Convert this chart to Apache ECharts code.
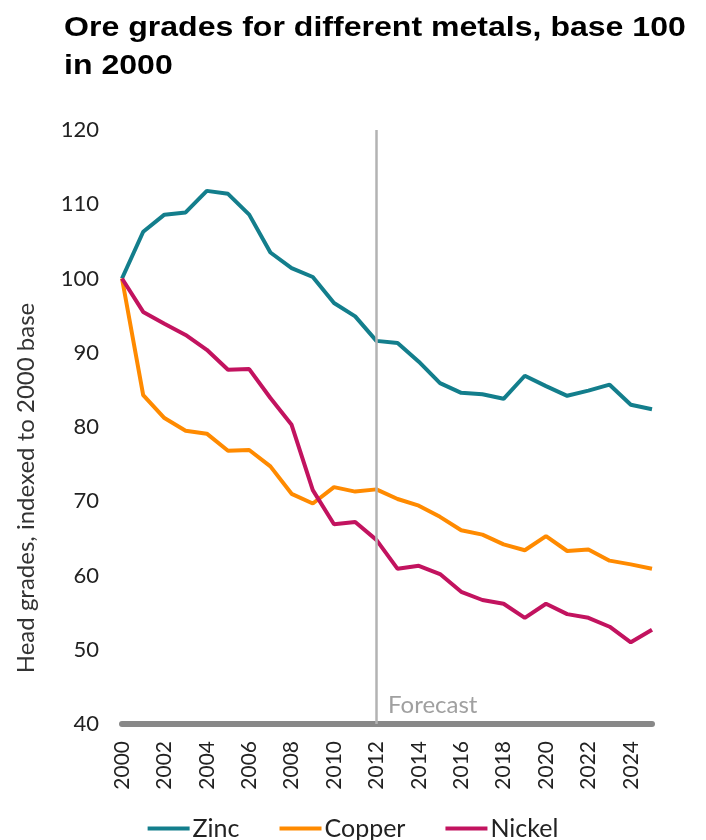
<!DOCTYPE html>
<html>
<head>
<meta charset="utf-8">
<script src="https://cdn.jsdelivr.net/npm/echarts@6/dist/echarts.min.js"></script>
<style>
html,body{margin:0;padding:0;background:#fff;}
#chart{width:706px;height:840px;}
</style>
</head>
<body>
<div id="chart"></div>
<script>
var years = ['2000','2001','2002','2003','2004','2005','2006','2007','2008','2009','2010','2011','2012','2013','2014','2015','2016','2017','2018','2019','2020','2021','2022','2023','2024','2025'];
var zinc = [100,106.3,108.6,108.9,111.8,111.4,108.6,103.5,101.4,100.2,96.7,94.9,91.6,91.3,88.8,85.9,84.6,84.4,83.8,86.9,85.5,84.2,84.9,85.7,83.0,82.4];
var copper = [100,84.3,81.2,79.5,79.1,76.8,76.9,74.7,71.0,69.7,71.9,71.3,71.6,70.3,69.4,67.9,66.1,65.5,64.2,63.4,65.3,63.3,63.5,62.0,61.5,60.9];
var nickel = [100,95.5,93.9,92.4,90.4,87.7,87.8,83.9,80.3,71.5,66.9,67.2,64.8,60.9,61.3,60.2,57.8,56.7,56.2,54.3,56.2,54.8,54.3,53.1,51.0,52.7];
var forecastYear = '2012';
var titleText = 'Ore grades for different metals, base 100\nin 2000';
var yAxisName = 'Head grades, indexed to 2000 base';
var forecastText = 'Forecast';

var chart = echarts.init(document.getElementById('chart'));
var font = 'Lato';
chart.setOption({
  animation: false,
  grid: {left: 122, right: 54, top: 130, bottom: 116},
  legend: {
    top: 811, left: 'center',
    itemWidth: 42, itemHeight: 4, itemGap: 40,
    icon: 'rect',
    textStyle: {fontFamily: font, fontSize: 25, color: '#222', padding: [0,0,0,-2]},
    data: ['Zinc','Copper','Nickel']
  },
  xAxis: {
    type: 'category', data: years, boundaryGap: false,
    axisLine: {lineStyle: {color: '#888', width: 6}},
    axisTick: {show: false},
    axisLabel: {interval: 1, rotate: 90, margin: 17, fontFamily: font, fontSize: 21, color: '#222'}
  },
  yAxis: {
    type: 'value', min: 40, max: 120, interval: 10,
    name: yAxisName, nameLocation: 'middle', nameGap: 84,
    nameTextStyle: {fontFamily: font, fontSize: 24, color: '#333', padding: [0, 122, 0, 0]},
    axisLine: {show: false}, axisTick: {show: false}, splitLine: {show: false},
    axisLabel: {margin: 23, fontFamily: font, fontSize: 22, color: '#222'}
  },
  graphic: [
    {type: 'text', x: 64, y: 9, scaleX: 1.145,
     style: {text: titleText, font: 'bold 28px "Liberation Sans"', lineHeight: 38, fill: '#000'}},
    {type: 'text', left: 388, top: 693,
     style: {text: forecastText, font: '24px Lato', fill: '#a0a0a0'}}
  ],
  series: [
    {name: 'Zinc', type: 'line', data: zinc, symbol: 'none', color: '#137e8c',
     lineStyle: {width: 4},
     markLine: {silent: true, symbol: 'none', label: {show: false},
       lineStyle: {color: '#b3b3b3', width: 2.5, type: 'solid'},
       data: [{xAxis: forecastYear}]}},
    {name: 'Copper', type: 'line', data: copper, symbol: 'none', color: '#ff8a00', lineStyle: {width: 4}},
    {name: 'Nickel', type: 'line', data: nickel, symbol: 'none', color: '#c2135f', lineStyle: {width: 4}}
  ]
});
</script>
</body>
</html>
